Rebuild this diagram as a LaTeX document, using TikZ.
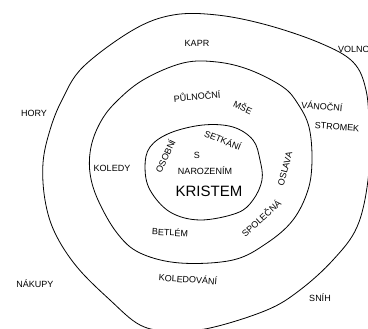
\documentclass[tikz,border=0pt]{standalone}
\usepackage{fontspec}
\setmainfont{Liberation Sans}
\begin{document}
\begin{tikzpicture}[x=1pt,y=-1pt,
  ring/.style={draw=black,line width=0.8pt},
  lbl/.style={font=\fontsize{9}{10}\selectfont,inner sep=0pt},
  big/.style={font=\fontsize{15}{16}\selectfont,inner sep=0pt}]
\useasboundingbox (0,0) rectangle (368,329);
\clip (0,0) rectangle (368,329);
% outer ring
\draw[ring] plot[smooth cycle,tension=0.6] coordinates {
 (173,15) (217,15) (267,25) (320,43) (353,62) (366,90) (369,130) (368,180)
 (357,227) (333,260) (300,290) (267,310) (210,328) (170,331) (140,325)
 (110,300) (77,267) (55,233) (45,200) (43,163) (50,130) (62,100) (83,67) (133,30)};
% middle ring
\draw[ring] plot[smooth cycle,tension=0.6] coordinates {
 (183,63) (217,62) (250,70) (283,87) (298,104) (309,127) (312,160) (308,190)
 (293,220) (267,243) (233,260) (180,263) (140,253) (117,233) (98,200)
 (90,173) (91,147) (100,123) (115,103) (143,80)};
% inner ring
\draw[ring] plot[smooth cycle,tension=0.6] coordinates {
 (203,125) (233,127) (253,140) (260,160) (262,180) (253,200) (237,213)
 (200,220) (170,212) (150,190) (145,167) (150,147) (170,133)};
% outer labels
\node[lbl] (kapr) at (197,43) {KAPR};
\node[lbl,anchor=west] (volno) at (338,49) {VOLNO};
\node[lbl] (hory) at (34,113) {HORY};
\node[lbl] (nakupy) at (35,284) {NÁKUPY};
\node[lbl,rotate=-4] (koledovani) at (188,279) {KOLEDOVÁNÍ};
\node[lbl] (snih) at (320,298) {SNÍH};
\node[lbl,rotate=-5] (vanocni) at (322,106) {VÁNOČNÍ};
\node[lbl,rotate=-4] (stromek) at (337,127) {STROMEK};
% middle labels
\node[lbl,rotate=5] (pulnocni) at (197,96) {PŮLNOČNÍ};
\node[lbl,rotate=-25] (mse) at (243,107) {MŠE};
\node[lbl] (koledy) at (112,168) {KOLEDY};
\node[lbl,rotate=-3] (betlem) at (170,232) {BETLÉM};
\node[lbl,rotate=42] (spolecna) at (261,218) {SPOLEČNÁ};
\node[lbl,rotate=75] (oslava) at (285,169) {OSLAVA};
% inner labels
\node[lbl,rotate=65] (osobni) at (165,156) {OSOBNÍ};
\node[lbl,rotate=-22] (setkani) at (223,140) {SETKÁNÍ};
\node[lbl] (s) at (197,155) {S};
\node[lbl] (narozenim) at (205,171) {NAROZENÍM};
\node[big] (kristem) at (209,191) {KRISTEM};
\end{tikzpicture}
\end{document}
